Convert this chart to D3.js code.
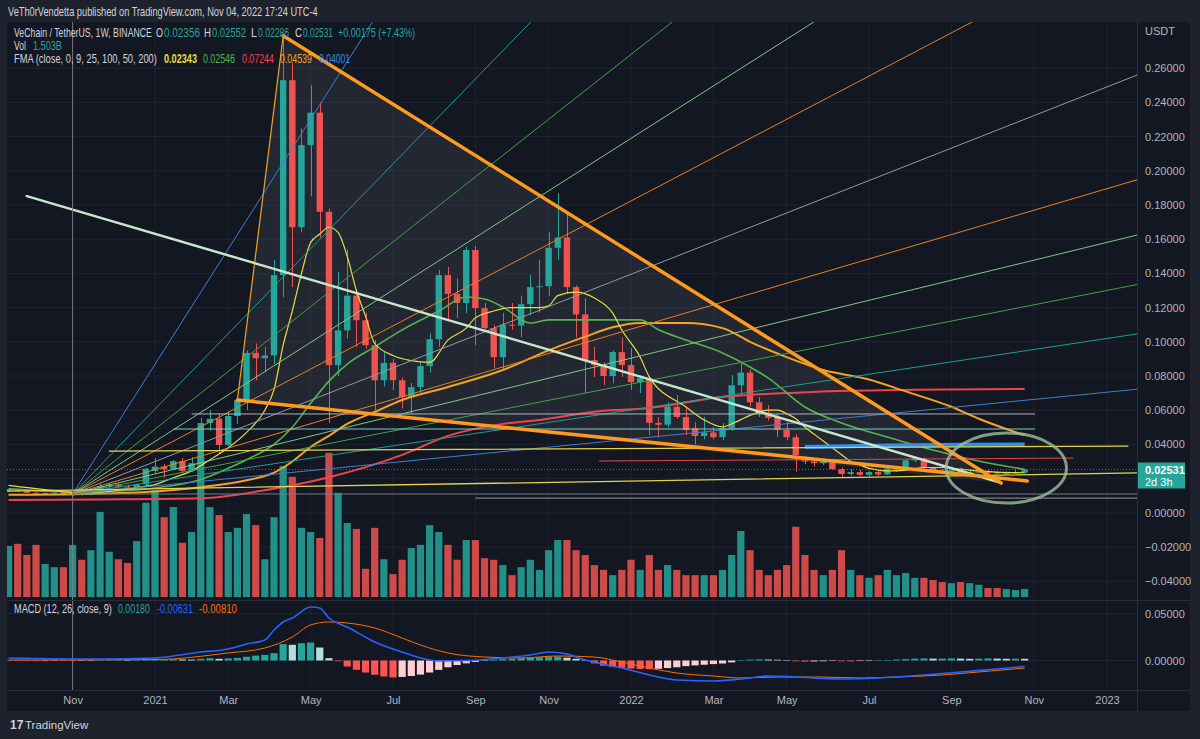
<!DOCTYPE html>
<html>
<head>
<meta charset="utf-8">
<script src="https://cdn.jsdelivr.net/npm/d3@7"></script>
<style>
  html, body { margin: 0; padding: 0; background: #1e222d; }
  svg { display: block; font-family: "Trebuchet MS", "Liberation Sans", Roboto, sans-serif; }
</style>
</head>
<body>
<div id="chart"></div>
<script>
"use strict";

const width = 1200;
const height = 739;

// weekly bars, index 0 is the week of 2020-09-14
const firstWeek = "2020-09-14";

// [open, high, low, close]
const ohlc = [
  [.0127,.0142,.0122,.0139],[.0139,.0141,.0123,.0127],[.0127,.0130,.0114,.0117],[.0117,.0120,.0110,.0113],
  [.0113,.0119,.0109,.0116],[.0116,.0121,.0112,.0118],[.0118,.0119,.0103,.0106],[.0106,.0118,.0098,.0114],
  [.0116,.0120,.0101,.0104],[.0104,.0125,.0102,.0121],[.0121,.0170,.0118,.0155],[.0155,.0175,.0140,.0165],
  [.0165,.0172,.0145,.0153],[.0153,.0165,.0140,.0147],[.0147,.0172,.0135,.0166],[.0166,.0265,.0150,.0258],
  [.0245,.0320,.0230,.0270],[.0270,.0285,.0205,.0255],[.0255,.0310,.0250,.0302],[.0302,.0320,.0230,.0244],
  [.0244,.0325,.0238,.0290],[.0290,.0555,.0280,.0525],[.0525,.0600,.0480,.0550],[.0550,.0580,.0350,.0397],
  [.0397,.0590,.0390,.0566],[.0566,.0680,.0520,.0660],[.0660,.0950,.0600,.0935],[.0935,.0990,.0775,.0904],
  [.0904,.0970,.0822,.0920],[.0920,.1478,.0870,.1390],[.1390,.2790,.1260,.2530],[.2530,.2636,.1320,.1670],
  [.1670,.2250,.1640,.2150],[.2150,.2500,.1850,.2340],[.2340,.2400,.1610,.1760],[.1760,.1780,.0525,.0864],
  [.0864,.1410,.0800,.1067],[.1067,.1540,.1020,.1270],[.1270,.1300,.0970,.1126],[.1126,.1170,.0960,.0980],
  [.0980,.1010,.0600,.0775],[.0775,.0940,.0740,.0877],[.0877,.0900,.0718,.0775],[.0775,.0790,.0610,.0678],
  [.0678,.0760,.0580,.0735],[.0735,.0880,.0700,.0858],[.0858,.1050,.0820,.1015],[.1015,.1420,.0970,.1390],
  [.1390,.1437,.1126,.1280],[.1280,.1370,.1140,.1227],[.1227,.1555,.1167,.1537],[.1537,.1560,.0980,.1197],
  [.1197,.1227,.1060,.1080],[.1080,.1100,.0846,.0910],[.0910,.1170,.0835,.1100],[.1100,.1227,.1070,.1095],
  [.1095,.1270,.1026,.1220],[.1220,.1390,.1155,.1320],[.1320,.1478,.1170,.1325],[.1325,.1640,.1270,.1550],
  [.1550,.1870,.1478,.1610],[.1610,.1750,.1280,.1320],[.1320,.1330,.1026,.1160],[.1160,.1255,.0700,.0893],
  [.0893,.0970,.0794,.0864],[.0864,.0880,.0746,.0800],[.0800,.0950,.0758,.0940],[.0940,.1026,.0794,.0864],
  [.0864,.0963,.0718,.0764],[.0764,.0806,.0700,.0787],[.0787,.0800,.0455,.0526],[.0526,.0560,.0442,.0515],
  [.0515,.0647,.0500,.0620],[.0620,.0688,.0550,.0560],[.0560,.0620,.0455,.0484],[.0495,.0530,.0400,.0449],
  [.0449,.0560,.0430,.0470],[.0470,.0500,.0430,.0442],[.0442,.0525,.0425,.0495],[.0495,.0806,.0480,.0746],
  [.0746,.0880,.0689,.0820],[.0820,.0840,.0620,.0646],[.0646,.0677,.0560,.0578],[.0585,.0630,.0540,.0555],
  [.0560,.0580,.0442,.0484],[.0484,.0530,.0425,.0442],[.0442,.0460,.0240,.0338],[.0307,.0330,.0285,.0300],
  [.0300,.0320,.0270,.0290],[.0290,.0320,.0280,.0300],[.0295,.0310,.0250,.0255],[.0255,.0265,.0210,.0227],
  [.0227,.0255,.0215,.0238],[.0238,.0250,.0215,.0222],[.0222,.0245,.0212,.0238],[.0238,.0248,.0215,.0224],
  [.0224,.0275,.0222,.0258],[.0252,.0275,.0240,.0262],[.0268,.0315,.0262,.0307],[.0307,.0330,.0297,.0318],
  [.0318,.0325,.0255,.0262],[.0262,.0268,.0232,.0245],[.0245,.0255,.0232,.0240],[.0240,.0262,.0232,.0250],
  [.0255,.0265,.0230,.0235],[.0235,.0250,.0222,.0238],[.0238,.0250,.0230,.0240],[.0240,.0255,.0235,.0238],
  [.0238,.0242,.0225,.0230],[.0230,.0240,.0225,.0232],[.0232,.0255,.0228,.0236],[.02356,.02552,.02286,.02531]
];

// volume in billions
const volumes = [
  9.6,10.0,7.9,9.8,6.2,5.6,5.6,9.8,7.0,8.8,16.0,8.5,7.1,6.4,10.5,17.7,
  20.1,15.0,16.9,10.2,12.2,26.3,16.9,15.4,12.2,13.0,15.6,13.5,7.1,15.0,24.6,22.6,13.0,12.2,11.1,27.1,
  19.6,13.9,12.8,5.3,13.0,7.1,4.3,
  7.0,9.2,9.8,13.5,12.2,9.8,7.0,10.7,10.7,7.3,7.0,6.0,4.1,5.6,7.0,5.1,8.8,10.7,10.7,8.8,
  7.9,6.0,5.1,4.1,5.1,7.0,5.1,7.9,5.1,6.0,5.1,4.1,4.1,4.1,4.1,5.1,7.9,12.4,8.8,5.1,
  4.1,5.1,6.0,13.2,7.9,5.1,4.1,5.1,8.8,5.1,4.1,3.6,4.1,5.1,4.1,4.5,3.6,3.6,3.2,2.8,
  2.6,2.8,2.6,2.3,1.7,1.7,1.5,1.3,1.503
];

const macdHist = [
  -0.0004,-0.0005,-0.0006,-0.0007,-0.0006,-0.0005,-0.0006,-0.0006,-0.0004,-0.0002,
  0.0002,0.0004,0.0004,0.0003,0.0005,0.0009,
  0.0012,0.0012,0.0014,0.0011,0.0010,0.0018,0.0024,0.0018,0.0022,0.0028,
  0.0040,0.0052,0.0060,0.0078,0.0174,0.0167,0.0184,0.0191,0.0138,0.0025,
  -0.0008,-0.0064,-0.0099,-0.0128,-0.0152,-0.0170,-0.0180,-0.0175,-0.0165,-0.0150,
  -0.0128,-0.0100,-0.0072,-0.0048,-0.0030,-0.0015,-0.0005,0.0008,0.0015,0.0020,
  0.0025,0.0030,0.0034,0.0040,0.0042,0.0030,0.0018,0.0002,-0.0030,-0.0055,
  -0.0068,-0.0078,-0.0085,-0.0090,-0.0092,-0.0088,-0.0080,-0.0072,-0.0060,-0.0052,
  -0.0045,-0.0038,-0.0032,-0.0020,0.0005,0.0010,0.0012,0.0010,0.0008,0.0002,
  -0.0008,-0.0012,-0.0010,-0.0008,-0.0005,-0.0008,-0.0010,-0.0006,-0.0003,0.0000,
  0.0005,0.0010,0.0015,0.0020,0.0022,0.0020,0.0020,0.0022,0.0020,0.0018,
  0.0020,0.0022,0.0020,0.0018,0.0019,0.0018
];

// line readings: [week index, value]
const macdLine = [[0,.0027],[10,.0016],[16,.0027],[21,.0090],[24,.0122],[26,.0176],[28,.0218],[29,.0324],
  [30,.0410],[31,.0452],[33,.0569],[34,.0559],[35,.0452],[37,.0356],[40,.0197],[43,.0090],[45,.0027],
  [47,-.0005],[50,.0000],[54,.0027],[57,.0058],[59,.0090],[61,.0069],[63,.0005],[67,-.0080],[70,-.0154],
  [73,-.0207],[77,-.0218],[80,-.0197],[83,-.0165],[86,-.0176],[91,-.0197],[95,-.0186],[100,-.0154],
  [104,-.0122],[108,-.0090],[111,-.00631]];
const signalLine = [[0,.0005],[16,.0010],[24,.0080],[28,.0133],[31,.0250],[33,.0378],[35,.0410],[37,.0399],
  [40,.0346],[43,.0239],[45,.0165],[48,.0080],[52,.0037],[56,.0027],[60,.0048],[64,.0037],[67,-.0016],
  [70,-.0080],[73,-.0133],[77,-.0165],[80,-.0186],[84,-.0176],[89,-.0176],[93,-.0186],[97,-.0176],
  [102,-.0154],[106,-.0122],[111,-.0081]];

const ma9 = [[0,.0160],[4,.0135],[8,.0115],[11,.0125],[14,.0148],[16,.0165],[18,.0205],[20,.0245],[22,.0310],
  [24,.0380],[26,.0470],[28,.0600],[29,.0720],[30,.0980],[31,.1180],[32,.1400],[33,.1580],[34,.1630],[35,.1670],
  [36,.1640],[37,.1500],[38,.1300],[39,.1150],[40,.0990],[42,.0920],[44,.0890],[46,.0880],[48,.1010],[50,.1080],
  [51,.1140],[53,.1180],[55,.1200],[58,.1200],[59,.1210],[60,.1270],[62,.1290],[64,.1256],[66,.1168],[67,.1069],
  [69,.0911],[70,.0795],[74,.0619],[76,.0543],[78,.0502],[79,.0520],[81,.0570],[83,.0600],[84,.0600],[85,.0580],
  [86,.0550],[87,.0500],[88,.0460],[89,.0420],[90,.0380],[91,.0340],[92,.0300],[93,.0280],[94,.0260],[95,.0250],
  [96,.0245],[98,.0250],[100,.0265],[102,.0265],[104,.0255],[106,.0245],[108,.0238],[111,.02343]];
const ma25 = [[0,.0140],[6,.0125],[12,.0128],[16,.0145],[21,.0195],[24,.0260],[26,.0310],[29,.0400],[31,.0500],
  [33,.0640],[35,.0770],[37,.0870],[40,.0970],[43,.1070],[47,.1180],[50,.1262],[52,.1250],[54,.1204],[57,.1110],
  [59,.1128],[65,.1128],[69,.1128],[71,.1070],[74,.1011],[78,.0935],[81,.0853],[83,.0788],[87,.0619],[91,.0525],
  [96,.0443],[101,.0367],[107,.0291],[111,.02546]];
const ma50 = [[0,.0105],[8,.0110],[16,.0125],[21,.0150],[26,.0190],[29,.0235],[31,.0300],[33,.0385],[35,.0450],
  [37,.0520],[40,.0590],[43,.0660],[48,.0736],[54,.0835],[59,.0950],[63,.1030],[66,.1085],[69,.1110],[74,.1110],
  [78,.1080],[81,.1000],[85,.0910],[89,.0835],[94,.0780],[98,.0710],[103,.0620],[106,.0550],[109,.0490],[111,.04539]];
const ma100 = [[0,.0075],[10,.0078],[21,.0085],[28,.0132],[35,.0208],[43,.0339],[48,.0450],[54,.0520],[58,.0543],
  [65,.0597],[69,.0608],[78,.0677],[88,.0707],[99,.0719],[111,.07244]];
const ma200 = [[87,.0385],[96,.0393],[104,.0398],[111,.04001]];

const priceTicks = [0.26,0.24,0.22,0.20,0.18,0.16,0.14,0.12,0.10,0.08,0.06,0.04,0.02,0,-0.02,-0.04];
const priceLabels = [0.26,0.24,0.22,0.20,0.18,0.16,0.14,0.12,0.10,0.08,0.06,0.04,0,-0.02,-0.04];
const macdTicks = [0.05, 0];
const timeTicks = ["2020-11-02","2021-01-04","2021-03-01","2021-05-03","2021-07-05","2021-09-06","2021-11-01",
  "2022-01-03","2022-03-07","2022-05-02","2022-07-04","2022-09-05","2022-11-07","2023-01-02"];
const timeLabels = ["Nov","2021","Mar","May","Jul","Sep","Nov","2022","Mar","May","Jul","Sep","Nov","2023"];

// drawings: [date, price]
const fanOrigin = ["2020-11-02", 0.0110];
const fanCorner = ["2023-01-25", 0.2560];
const fanLevels = [0.25, 0.382, 0.5, 0.618, 0.75, 1];
const fanColors = ["#3f7fd0", "#1f9c8f", "#43a047", "#81c784", "#e8801f", "#9598a1"];
const triangle = [["2021-03-08", 0.0660], ["2021-04-12", 0.2790], ["2022-10-13", 0.0174]];
const upperTrend = [["2021-04-12", 0.2790], ["2022-10-13", 0.0174]];
const lowerTrend = [["2021-03-08", 0.0660], ["2022-11-02", 0.0186]];
const mintTrend = [["2020-09-28", 0.1852], ["2022-10-11", 0.0180]];
const yellowTrends = [[["2020-11-30", 0.0361], ["2023-01-18", 0.0390]], [["2020-09-12", 0.0127], ["2023-01-25", 0.0233]]];
const redTrend = [["2021-12-10", 0.0303], ["2022-12-07", 0.0320]];
const levels = [
  { p: 0.0578, from: "2021-02-01", to: "2022-11-08", color: "#b2b5be" },
  { p: 0.0490, from: "2021-01-18", to: "2022-11-08", color: "#80cbc4" },
  { p: 0.0086, from: "2021-09-06", to: "2023-01-25", color: "#9598a1" }
];
const ellipse = { date: "2022-10-17", p: 0.0262, days: 46, dp: 0.0205 };
const lastClose = 0.02531;

// pane geometry
const paneLeft = 7, paneRight = 1137, paneTop = 22, mainBottom = 600, macdBottom = 690, axisBottom = 711, frameRight = 1190;

const parse = d3.utcParse("%Y-%m-%d");
const week0 = parse(firstWeek);
function weekDate(i) {
  return d3.utcDay.offset(week0, i * 7);
}

const x = d3.scaleUtc()
  .domain([parse("2021-01-04"), parse("2022-01-03")])
  .range([155, 631]);
const y = d3.scaleLinear().domain([0, 0.26]).range([512.8, 68.2]);
const yVol = d3.scaleLinear().domain([0, 30]).range([597, 437.4]);
const yMacd = d3.scaleLinear().domain([0, 0.05]).range([660.5, 613.5]);

const up = "#26a69a";
const down = "#ef5350";

const svg = d3.select("#chart").append("svg")
  .attr("width", width)
  .attr("height", height);

svg.append("rect").attr("width", width).attr("height", height).attr("fill", "#1e222d");
svg.append("rect")
  .attr("x", paneLeft).attr("y", paneTop)
  .attr("width", frameRight - paneLeft).attr("height", axisBottom - paneTop)
  .attr("fill", "#131722");

const defs = svg.append("defs");
defs.append("clipPath").attr("id", "mainClip")
  .append("rect").attr("x", paneLeft).attr("y", paneTop).attr("width", paneRight - paneLeft).attr("height", mainBottom - paneTop);
defs.append("clipPath").attr("id", "macdClip")
  .append("rect").attr("x", paneLeft).attr("y", mainBottom + 1).attr("width", paneRight - paneLeft).attr("height", macdBottom - mainBottom - 1);

// grid
const grid = svg.append("g").attr("stroke", "#1f2330").attr("stroke-width", 1);
grid.selectAll(".vgrid")
  .data(timeTicks)
  .join("line")
  .attr("x1", d => x(parse(d))).attr("x2", d => x(parse(d)))
  .attr("y1", paneTop).attr("y2", macdBottom);
grid.selectAll(".hgrid")
  .data(priceTicks)
  .join("line")
  .attr("x1", paneLeft).attr("x2", paneRight)
  .attr("y1", d => y(d)).attr("y2", d => y(d));
grid.selectAll(".mgrid")
  .data(macdTicks)
  .join("line")
  .attr("x1", paneLeft).attr("x2", paneRight)
  .attr("y1", d => yMacd(d)).attr("y2", d => yMacd(d));

const bars = ohlc.map(function(d, i) {
  return { date: weekDate(i), o: d[0], h: d[1], l: d[2], c: d[3], v: volumes[i], hist: macdHist[i] };
});

const main = svg.append("g").attr("clip-path", "url(#mainClip)");

function pt(d) {
  return [x(parse(d[0])), y(d[1])];
}

// triangle fill
main.append("polygon")
  .attr("points", triangle.map(pt).map(p => p.join(",")).join(" "))
  .attr("fill", "rgba(150,153,163,0.12)")
  .attr("stroke", "none");

// volume
main.append("g")
  .selectAll("rect")
  .data(bars)
  .join("rect")
  .attr("x", d => x(d.date) - 3.6)
  .attr("width", 7.2)
  .attr("y", d => yVol(d.v))
  .attr("height", d => yVol(0) - yVol(d.v))
  .attr("fill", d => d.c >= d.o ? up : down)
  .attr("opacity", 0.85);

// candles
const candle = main.append("g")
  .selectAll("g")
  .data(bars)
  .join("g");
candle.append("line")
  .attr("x1", d => Math.round(x(d.date)) + 0.5).attr("x2", d => Math.round(x(d.date)) + 0.5)
  .attr("y1", d => y(d.h)).attr("y2", d => y(d.l))
  .attr("stroke", d => d.c >= d.o ? up : down);
candle.append("rect")
  .attr("x", d => x(d.date) - 3.2)
  .attr("width", 6.4)
  .attr("y", d => y(Math.max(d.o, d.c)))
  .attr("height", d => Math.max(1, Math.abs(y(d.o) - y(d.c))))
  .attr("fill", d => d.c >= d.o ? up : down);

// moving averages
const maLine = d3.line()
  .x(d => x(weekDate(d[0])))
  .y(d => y(d[1]))
  .curve(d3.curveMonotoneX);
const mas = [
  { data: ma100, color: "#f0434f", w: 2 },
  { data: ma50, color: "#f5a225", w: 2 },
  { data: ma25, color: "#56b350", w: 1.6 },
  { data: ma9, color: "#e5dd45", w: 1.2 },
  { data: ma200, color: "#2e8ff0", w: 4 }
];
main.append("g")
  .selectAll("path")
  .data(mas)
  .join("path")
  .attr("d", d => maLine(d.data))
  .attr("fill", "none")
  .attr("stroke", d => d.color)
  .attr("stroke-width", d => d.w);

// last price line
main.append("line")
  .attr("x1", paneLeft).attr("x2", paneRight)
  .attr("y1", y(lastClose)).attr("y2", y(lastClose))
  .attr("stroke", up).attr("stroke-dasharray", "1,2").attr("opacity", 0.8);

// fib speed fan, rays from the origin
const drawings = main.append("g").attr("fill", "none");
const o = pt(fanOrigin);
const d0 = parse(fanOrigin[0]), d1 = parse(fanCorner[0]);
function ray(p, color) {
  const k = 12;
  drawings.append("line")
    .attr("x1", o[0]).attr("y1", o[1])
    .attr("x2", o[0] + (p[0] - o[0]) * k).attr("y2", o[1] + (p[1] - o[1]) * k)
    .attr("stroke", color).attr("stroke-width", 1);
}
fanLevels.forEach(function(r, i) {
  const price = fanOrigin[1] + r * (fanCorner[1] - fanOrigin[1]);
  ray([x(d1), y(price)], fanColors[i]);
  if (r < 1) {
    const t = new Date(d0.getTime() + r * (d1.getTime() - d0.getTime()));
    ray([x(t), y(fanCorner[1])], fanColors[i]);
  }
});
ray([x(d1), y(fanOrigin[1])], "#787b86");

levels.forEach(function(l) {
  drawings.append("line")
    .attr("x1", x(parse(l.from))).attr("x2", x(parse(l.to)))
    .attr("y1", y(l.p)).attr("y2", y(l.p))
    .attr("stroke", l.color).attr("stroke-width", 1);
});

function segment(a, b, color, w) {
  const p = pt(a), q = pt(b);
  drawings.append("line")
    .attr("x1", p[0]).attr("y1", p[1]).attr("x2", q[0]).attr("y2", q[1])
    .attr("stroke", color).attr("stroke-width", w).attr("stroke-linecap", "round");
}
yellowTrends.forEach(t => segment(t[0], t[1], "#e3d44c", 1.3));
segment(redTrend[0], redTrend[1], "#e0474f", 1);
segment(triangle[0], triangle[1], "#f5a225", 1.2);
segment(mintTrend[0], mintTrend[1], "#c8e6c9", 2.5);
segment(upperTrend[0], upperTrend[1], "#ff9a1f", 3.5);
segment(lowerTrend[0], lowerTrend[1], "#ff9a1f", 3.5);

const ec = pt([ellipse.date, ellipse.p]);
drawings.append("ellipse")
  .attr("cx", ec[0]).attr("cy", ec[1])
  .attr("rx", x(d3.utcDay.offset(parse(ellipse.date), ellipse.days)) - ec[0])
  .attr("ry", y(ellipse.p - ellipse.dp) - ec[1])
  .attr("stroke", "#9fbf9a").attr("stroke-width", 3).attr("opacity", 0.8);

// vertical line spans all panes
svg.append("line")
  .attr("x1", x(d0)).attr("x2", x(d0))
  .attr("y1", paneTop).attr("y2", macdBottom)
  .attr("stroke", "#787b86").attr("stroke-width", 1);

// MACD pane
const macd = svg.append("g").attr("clip-path", "url(#macdClip)");
macd.append("g")
  .selectAll("rect")
  .data(bars)
  .join("rect")
  .attr("x", d => x(d.date) - 3.6)
  .attr("width", 7.2)
  .attr("y", d => yMacd(Math.max(0, d.hist)))
  .attr("height", d => Math.max(0.5, Math.abs(yMacd(d.hist) - yMacd(0))))
  .attr("fill", function(d, i) {
    const prev = i > 0 ? bars[i - 1].hist : d.hist;
    if (d.hist >= 0) {
      return d.hist >= prev ? "#26a69a" : "#b2dfdb";
    }
    return d.hist <= prev ? "#ff5252" : "#ffcdd2";
  });
const macdPath = d3.line()
  .x(d => x(weekDate(d[0])))
  .y(d => yMacd(d[1]))
  .curve(d3.curveMonotoneX);
macd.append("path").attr("d", macdPath(signalLine)).attr("fill", "none").attr("stroke", "#ff6d00").attr("stroke-width", 1);
macd.append("path").attr("d", macdPath(macdLine)).attr("fill", "none").attr("stroke", "#2962ff").attr("stroke-width", 1.6);

// pane borders
const borders = svg.append("g").attr("stroke", "#2a2e39").attr("stroke-width", 1);
borders.append("line").attr("x1", paneLeft).attr("x2", frameRight).attr("y1", mainBottom + 0.5).attr("y2", mainBottom + 0.5);
borders.append("line").attr("x1", paneLeft).attr("x2", frameRight).attr("y1", macdBottom + 0.5).attr("y2", macdBottom + 0.5);
borders.append("line").attr("x1", paneRight + 0.5).attr("x2", paneRight + 0.5).attr("y1", paneTop).attr("y2", axisBottom);

// price axis, the 0.02 label sits under the last price tag
const axisText = "#b2b5be";
const priceAxis = svg.append("g")
  .attr("transform", "translate(" + paneRight + ",0)")
  .call(d3.axisRight(y).tickValues(priceLabels).tickFormat(d3.format(".5f")).tickSize(0).tickPadding(8));
priceAxis.select(".domain").remove();
priceAxis.selectAll("text").attr("fill", axisText).style("font-size", "11px");

const macdAxis = svg.append("g")
  .attr("transform", "translate(" + paneRight + ",0)")
  .call(d3.axisRight(yMacd).tickValues(macdTicks).tickFormat(d3.format(".5f")).tickSize(0).tickPadding(8));
macdAxis.select(".domain").remove();
macdAxis.selectAll("text").attr("fill", axisText).style("font-size", "11px");

svg.append("text").attr("x", 1145).attr("y", 35).text("USDT")
  .attr("fill", axisText).style("font-size", "11px");

// time axis
const timeAxis = svg.append("g")
  .attr("transform", "translate(0," + macdBottom + ")")
  .call(d3.axisBottom(x).tickValues(timeTicks.map(parse)).tickFormat((d, i) => timeLabels[i]).tickSize(0).tickPadding(6));
timeAxis.select(".domain").remove();
timeAxis.selectAll("text").attr("fill", axisText).style("font-size", "11px");

// last price tag
const tag = svg.append("g");
tag.append("rect").attr("x", paneRight + 1).attr("y", y(lastClose) - 7).attr("width", 47).attr("height", 26).attr("fill", up);
tag.append("text").attr("x", 1145).attr("y", y(lastClose) + 4).text(d3.format(".5f")(lastClose))
  .attr("fill", "#ffffff").style("font-size", "11px").style("font-weight", "bold");
tag.append("text").attr("x", 1145).attr("y", y(lastClose) + 16).text("2d 3h")
  .attr("fill", "#ffffff").style("font-size", "11px");

// header and legends: each piece is measured, then squeezed to the snapshot's narrow font
const textColor = "#d1d4dc";
function label(xPos, yPos, str, color, len, bold, size) {
  const g = svg.append("g");
  const t = g.append("text")
    .text(str)
    .attr("fill", color)
    .style("font-size", (size || 12) + "px")
    .style("font-weight", bold ? "bold" : null);
  const natural = t.node().getComputedTextLength();
  g.attr("transform", "translate(" + xPos + "," + yPos + ") scale(" + Math.min(1, len / natural) + ",1)");
}
label(8, 16, "VeTh0rVendetta published on TradingView.com, Nov 04, 2022 17:24 UTC-4", textColor, 310, false, 12.5);

label(14, 37, "VeChain / TetherUS, 1W, BINANCE", textColor, 138);
label(156, 37, "O", textColor, 7);
label(164, 37, "0.02356", up, 36);
label(204, 37, "H", textColor, 7);
label(212, 37, "0.02552", up, 34);
label(251, 37, "L", textColor, 6);
label(258, 37, "0.02286", up, 31);
label(295, 37, "C", textColor, 7);
label(303, 37, "0.02531", up, 30);
label(338, 37, "+0.00175 (+7.43%)", up, 77);

label(14, 50, "Vol", textColor, 12);
label(33, 50, "1.503B", up, 29);

label(14, 63, "FMA (close, 0, 9, 25, 100, 50, 200)", textColor, 143);
label(164, 63, "0.02343", "#e5dd45", 33, true);
label(203, 63, "0.02546", "#56b350", 32);
label(242, 63, "0.07244", "#f0434f", 32);
label(280, 63, "0.04539", "#f5a225", 32);
label(319, 63, "0.04001", "#2e8ff0", 31);

label(14, 613, "MACD (12, 26, close, 9)", textColor, 98);
label(118, 613, "0.00180", up, 32);
label(157, 613, "-0.00631", "#2962ff", 36);
label(199, 613, "-0.00810", "#ff6d00", 38);

// footer logo
svg.append("text").attr("x", 10).attr("y", 729)
  .text("17").attr("fill", textColor).style("font-size", "12px").style("font-weight", "bold");
svg.append("text").attr("x", 25).attr("y", 729)
  .text("TradingView").attr("fill", textColor).style("font-size", "11.5px");
</script>
</body>
</html>
